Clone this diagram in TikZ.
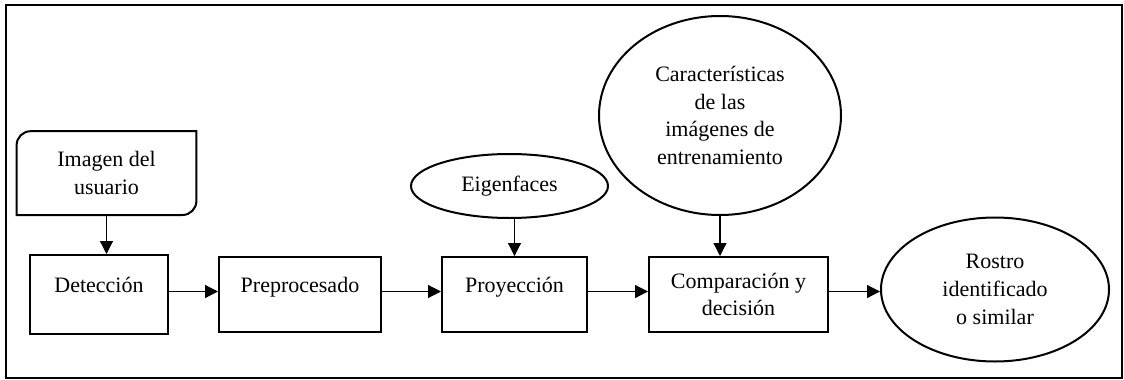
\documentclass[tikz,border=0pt]{standalone}
\usepackage{fontspec}
\setmainfont{Liberation Serif}
\usetikzlibrary{arrows.meta}
\usetikzlibrary{positioning}
\usetikzlibrary{shapes.geometric}
\tikzset{
  flecha/.style={
    line width=0.6pt,
    -{Triangle[length=6.5pt,width=6.5pt]}
  }
}

\begin{document}
\begin{tikzpicture}[font=\fontsize{11}{13.9}\selectfont] % Estilos de nodos
\tikzstyle{caja} = [rectangle, draw, line width=1pt, align=center, inner sep=0pt] \tikzstyle{unalinea} = [text height=8pt, text depth=10pt] \tikzstyle{elipse} = [ellipse, draw, line width=1pt, align=center, inner sep=0pt]
% Marco
\useasboundingbox (0,0) rectangle (562pt,-190pt);
\draw[line width=1.1pt] (3pt,-2.5pt) rectangle (561pt,-189pt);
% Nodos de la cadena
\node (deteccion) [caja, unalinea, minimum width=69pt, minimum height=39.5pt] at (49.5pt,-147.25pt) {Detección}; \node (preproc) [caja, unalinea, minimum width=81pt, minimum height=37.5pt, right=24.5pt of deteccion] {Preprocesado}; \node (proyeccion) [caja, unalinea, minimum width=72.5pt, minimum height=37.5pt, right=29.5pt of preproc] {Proyección}; \node (comparacion) [caja, minimum width=89.5pt, minimum height=37.5pt, right=30pt of proyeccion] {Comparación y\\ decisión}; \node (rostro) [elipse, minimum width=114pt, minimum height=72pt, right=25.5pt of comparacion, yshift=2.5pt] {Rostro\\ identificado\\ o similar};
% Entradas
\node (usuario) [align=center, minimum width=89.5pt, minimum height=41.5pt, inner sep=0pt, above=19.5pt of deteccion, xshift=3.75pt] {Imagen del\\ usuario}; \node (eigen) [elipse, minimum width=98.5pt, minimum height=32pt, above=18.5pt of proyeccion, xshift=-2.5pt] {Eigenfaces}; \node (caract) [elipse, minimum width=121pt, minimum height=99.5pt, above=20pt of comparacion, xshift=-9.25pt] {Características\\ de las\\ imágenes de\\ entrenamiento};
% Borde de la imagen del usuario (dos esquinas redondeadas)
\draw[line width=1pt] (usuario.south west) -- ([yshift=-7pt]usuario.north west) arc[start angle=180, end angle=90, radius=7pt] -- (usuario.north east) -- ([yshift=7pt]usuario.south east) arc[start angle=0, end angle=-90, radius=7pt] -- cycle;
% Flechas
\draw[flecha] (usuario.south) -- (usuario.south |- deteccion.north); \draw[flecha] (eigen.south -| proyeccion.north) -- (proyeccion.north); \draw[flecha] (caract.south) -- (caract.south |- comparacion.north);
\foreach \a/\b in {deteccion/preproc, preproc/proyeccion, proyeccion/comparacion}{ \draw[flecha] ([yshift=1.5pt]\a.east) -- ([yshift=1.5pt]\b.west); }
\draw[flecha] ([yshift=1.5pt]comparacion.east) -- ([yshift=1.5pt]comparacion.east -| rostro.west);
\end{tikzpicture}
\end{document}
